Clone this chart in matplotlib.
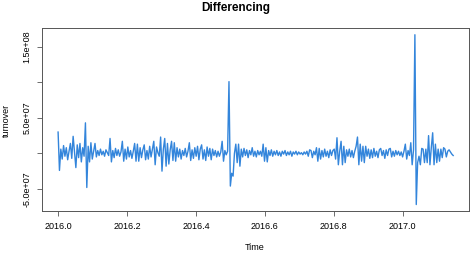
import numpy as np
import matplotlib
matplotlib.use("Agg")
import matplotlib.pyplot as plt

# differenced turnover series (units of 1e6), trading-day frequency from 2016.0
START = 2016.0
FREQ = 252
diff_vals = [
    30, -24, 6, -8, 11, -4, 8, -9, 3, 14, -7, 24, 2, -20, 12, -6, 14, -12, 8, -4,
    43, -48, 10, -12, 15, -8, 3, 14, -5, 4, -3, 6, -2, 3, -4, 5, 1, -3, 21, -12,
    4, -6, 7, -3, 5, -4, 2, 17, -11, 6, -8, 9, -5, 4, -7, 3, 14, -11,
    13, -11, 8, -6, 5, 12, -9, 4, -8, 10, -5, 6, 17, -16, 9, 1, -4, 23, -25, 6,
    21, -18, 14, -15, 5, 17, -10, 15, -11, 8, -5, 6, -8, 4, -3, 7, -5, 3, 15, -10,
    5, -7, 8, -4, 10, -9, 6, 12, -8, 5, -10, 9, -4, 7, -9, 6, -3, 4, -5,
    3, -4, 2, 17, -11, 4, -2, 3, 101, -46, -28, -32, 0, 13, -13, 13, -18, 6, -5, 7,
    -3, 5, -6, 4, -2, 8, -4, 3, -5, 4, -2, 3, -4, 13, -11, 8, -12, 4, -3, 5,
    -4, 3, -2, 4, -3, 2, -4, 3, -1, 4, -3, 2, -2, 3, -4, 2, -1, 3,
    -2, 2, -1, 1, -2, 2, -1, 3, -4, 5, 4, -6, 3, -2, 8, -11, 7, -8, 4, -5,
    6, -4, 3, -6, 5, -3, 4, 6, -8, 22, -16, 3, 17, -16, 10, -13, 5, -4, 6, -5,
    4, -6, 3, 10, 23, -16, 13, -11, 10, -13, 10, -4, 6, -7, 5, -6, 7, -4, 3,
    -6, 5, 7, -3, 4, -7, 5, -3, 6, 7, -5, 3, -4, 4, -2, 3, -3, 2, -5, 3,
    13, -8, 4, -3, 15, -16, 5, 167, -72, -13, -4, -16, 7, 6, -13, 6, -13, 25, -16, 8,
    29, -16, 13, -13, 6, -11, 6, -6, 8, 6, -5, 3, 5, 2, -1, -3,
]
x_ticks = [2016.0, 2016.2, 2016.4, 2016.6, 2016.8, 2017.0]
y_ticks = [-5e7, 0, 5e7, 1e8, 1.5e8]
y_labels = ["-5.0e+07", "", "5.0e+07", "", "1.5e+08"]

y = np.array(diff_vals) * 1e6
t = START + np.arange(len(y)) / FREQ

plt.rcParams["font.family"] = ["Liberation Sans", "DejaVu Sans"]
W, H = 472, 254
fig = plt.figure(figsize=(W / 100, H / 100), dpi=100)
ax = fig.add_axes([0.0896, 0.168, 0.904, 0.722])
ax.plot(t, y, color="#3385db", lw=1.0)

# R-style 4% padding
xr = t.max() - t.min()
yr = y.max() - y.min()
ax.set_xlim(t.min() - 0.04 * xr, t.max() + 0.04 * xr)
ax.set_ylim(y.min() - 0.04 * yr, y.max() + 0.04 * yr)

ax.set_xticks(x_ticks)
ax.set_xticklabels([f"{v:.1f}" for v in x_ticks], fontsize=6.5)
ax.set_yticks(y_ticks)
ax.set_yticklabels(y_labels, fontsize=6.5, rotation=90, va="center")
ax.tick_params(length=3.5, width=0.6, color="#555555", pad=4.5)
for s in ax.spines.values():
    s.set_color("#555555")
    s.set_linewidth(0.7)

fig.text(236 / W, 1 - 8 / H, "Differencing", fontsize=8.5, fontweight="bold",
         ha="center", va="center")
fig.text(255 / W, 1 - 247 / H, "Time", fontsize=6.5, ha="center", va="center")
fig.text(6 / W, 1 - 120 / H, "turnover", fontsize=6.5, rotation=90,
         ha="center", va="center")

fig.savefig("out.png", dpi=100)
